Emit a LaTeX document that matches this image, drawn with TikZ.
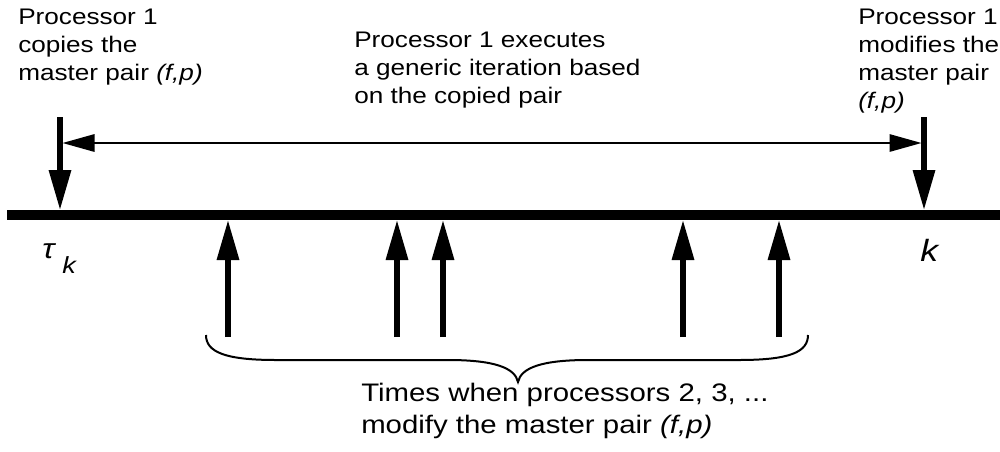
\documentclass[tikz,border=0pt]{standalone}
\usepackage{fontspec}
\setmainfont{Liberation Sans}[FakeStretch=1.16]
\usetikzlibrary{arrows.meta}
\begin{document}
\begin{tikzpicture}[x=0.75pt,y=-0.75pt,
  lbl/.style={inner sep=0pt, anchor=base west, align=left, font=\fontsize{16.9pt}{21pt}\selectfont},
  botlbl/.style={inner sep=0pt, anchor=base west, align=left, font=\fontsize{19pt}{23.5pt}\selectfont},
  thickarrow/.style={line width=4pt, -{Triangle[length=30pt,width=16pt]}},
  thinarrow/.style={line width=1.5pt, {Triangle[length=24pt,width=13pt]}-{Triangle[length=24pt,width=13pt]}},
  axisline/.style={line width=7.5pt},
  bracepath/.style={line width=1.5pt}]
\useasboundingbox (0,0) rectangle (1000,451);
% axis
\coordinate (aL) at (7,215);
\coordinate (aR) at (1000,215);
\draw[axisline] (aL) -- (aR);
% processor 1 arrows
\coordinate (cTop) at (60,117);
\coordinate (cBot) at (60,210);
\coordinate (mTop) at (924,117);
\coordinate (mBot) at (924,210);
\draw[thickarrow] (cTop) -- (cBot);
\draw[thickarrow] (mTop) -- (mBot);
\coordinate (hL) at (62.5,143);
\coordinate (hR) at (921.5,143);
\draw[thinarrow] (hL) -- (hR);
% other processors
\foreach \i/\x in {1/228,2/397,3/443,4/683,5/779}{
  \coordinate (us\i) at (\x,337);
  \coordinate (ut\i) at (\x,220);
  \draw[thickarrow] (us\i) -- (ut\i);
}
% brace
\coordinate (bL) at (206,335);
\coordinate (bT) at (518,382);
\coordinate (bR) at (808,335);
\draw[bracepath] (bL) .. controls (206,352) and (225,360) .. (276,360) -- (448,360)
  .. controls (495,360) and (515,368) .. (bT)
  .. controls (521,368) and (541,360) .. (588,360) -- (739,360)
  .. controls (790,360) and (808,352) .. (bR);
% texts (base anchor = baseline of last line)
\node[lbl] (tl) at (18,80) {Processor 1\\copies the\\master pair \textit{(f,p)}};
\node[lbl] (tm) at (354,103) {Processor 1 executes\\a generic iteration based\\on the copied pair};
\node[lbl] (tr) at (858,108) {Processor 1\\modifies the\\master pair\\\textit{(f,p)}};
\node[lbl, font=\fontsize{21pt}{21pt}\selectfont] (tau) at (42,258) {\textit{τ}};
\node[lbl, font=\fontsize{17.5pt}{17.5pt}\selectfont] (ksub) at (62,273) {\textit{k}};
\node[lbl, font=\fontsize{23pt}{23pt}\selectfont] (kr) at (920,261) {\textit{k}};
\node[botlbl] (bt) at (361,433) {Times when processors 2, 3, ...\\modify the master pair \textit{(f,p)}};
\end{tikzpicture}
\end{document}
